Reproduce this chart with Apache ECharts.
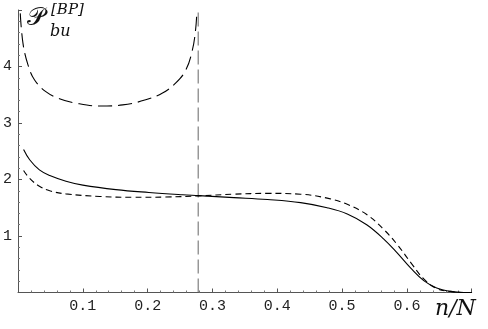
<!DOCTYPE html>
<html>
<head>
<meta charset="utf-8">
<script src="https://cdn.jsdelivr.net/npm/echarts@6/dist/echarts.min.js"></script>
<style>
  html, body { margin: 0; padding: 0; background: #fff; }
  #main { width: 488px; height: 329px; }
</style>
</head>
<body>
<div id="main"></div>
<script>
// solid curve
var solidX = [0.0086, 0.018, 0.033, 0.049, 0.074, 0.10, 0.151, 0.202, 0.254, 0.279, 0.333, 0.385, 0.436, 0.477, 0.508, 0.538, 0.564, 0.585, 0.606, 0.626, 0.646, 0.667, 0.688, 0.70];
var solidY = [2.53, 2.35, 2.17, 2.07, 1.97, 1.90, 1.82, 1.77, 1.73, 1.715, 1.68, 1.645, 1.59, 1.50, 1.39, 1.20, 0.95, 0.70, 0.43, 0.21, 0.08, 0.02, 0.0, 0.0];
// short dashed curve
var shortX = [0.0086, 0.018, 0.033, 0.049, 0.074, 0.126, 0.177, 0.228, 0.279, 0.333, 0.385, 0.436, 0.477, 0.508, 0.538, 0.564, 0.585, 0.606, 0.626, 0.646, 0.667, 0.688, 0.70];
var shortY = [2.16, 2.02, 1.88, 1.80, 1.745, 1.70, 1.685, 1.69, 1.71, 1.74, 1.755, 1.74, 1.67, 1.56, 1.38, 1.12, 0.85, 0.53, 0.24, 0.07, 0.02, 0.0, 0.0];
// long dashed curve (upper branch)
var longX = [0.0035, 0.0077, 0.0154, 0.0256, 0.0435, 0.064, 0.0897, 0.1256, 0.1615, 0.197, 0.223, 0.2435, 0.259, 0.269, 0.274, 0.276];
var longY = [4.94, 4.41, 4.03, 3.76, 3.55, 3.43, 3.35, 3.30, 3.32, 3.41, 3.53, 3.71, 3.94, 4.29, 4.65, 4.97];
// vertical marker
var vLineX = [0.278, 0.278];
var vLineY = [0, 5];

var xTicks = ['0.1', '0.2', '0.3', '0.4', '0.5', '0.6'];
var yTicks = ['1', '2', '3', '4'];

function pairs(xs, ys) {
    return xs.map(function (x, i) { return [x, ys[i]]; });
}

var chart = echarts.init(document.getElementById('main'));
var tickFont = '"Liberation Mono", "DejaVu Sans Mono", monospace';
var option = {
    animation: false,
    grid: { left: 16.7, right: 16.3, top: 10, bottom: 36.5 },
    xAxis: {
        type: 'value', min: 0, max: 0.7, interval: 0.1,
        axisLine: { lineStyle: { color: '#555', width: 1 } },
        axisTick: { inside: true, length: 4, lineStyle: { color: '#555' } },
        minorTick: { show: true, splitNumber: 5, length: 2, lineStyle: { color: '#777' } },
        splitLine: { show: false },
        axisLabel: {
            margin: 6, fontFamily: tickFont, fontSize: 15, color: '#222',
            formatter: function (v) {
                var s = v.toFixed(1);
                return xTicks.indexOf(s) >= 0 ? s : '';
            }
        }
    },
    yAxis: {
        type: 'value', min: 0, max: 5, interval: 1,
        axisLine: { show: true, lineStyle: { color: '#555', width: 1 } },
        axisTick: { show: true, inside: true, length: 4, lineStyle: { color: '#555' } },
        minorTick: { show: true, splitNumber: 5, length: 2, lineStyle: { color: '#777' } },
        splitLine: { show: false },
        axisLabel: {
            margin: 6, fontFamily: tickFont, fontSize: 15, color: '#222',
            formatter: function (v) {
                var s = String(v);
                return yTicks.indexOf(s) >= 0 ? s : '';
            }
        }
    },
    series: [
        {
            type: 'line', data: pairs(vLineX, vLineY), symbol: 'none',
            lineStyle: { color: '#666', width: 1, type: [14, 5] }
        },
        {
            type: 'line', data: pairs(longX, longY), symbol: 'none', smooth: 0.4,
            lineStyle: { color: '#000', width: 1.1, type: [14, 6] }
        },
        {
            type: 'line', data: pairs(solidX, solidY), symbol: 'none', smooth: 0.4,
            lineStyle: { color: '#000', width: 1.1 }
        },
        {
            type: 'line', data: pairs(shortX, shortY), symbol: 'none', smooth: 0.4,
            lineStyle: { color: '#000', width: 1.1, type: [6, 4] }
        }
    ],
    graphic: [
        { type: 'text', left: 27, top: 6, style: { text: '\uD835\uDCAB', font: '25px "DejaVu Serif", serif', fill: '#111' } },
        { type: 'text', left: 51, top: 3, style: { text: '[BP]', font: 'italic 15px "DejaVu Serif", serif', fill: '#111' } },
        { type: 'text', left: 50, top: 24, style: { text: 'bu', font: 'italic 16px "DejaVu Serif", serif', fill: '#111' } },
        { type: 'text', left: 435, top: 298, style: { text: 'n/N', font: 'italic 22px "DejaVu Serif", serif', fill: '#111' } }
    ]
};
chart.setOption(option);
</script>
</body>
</html>
